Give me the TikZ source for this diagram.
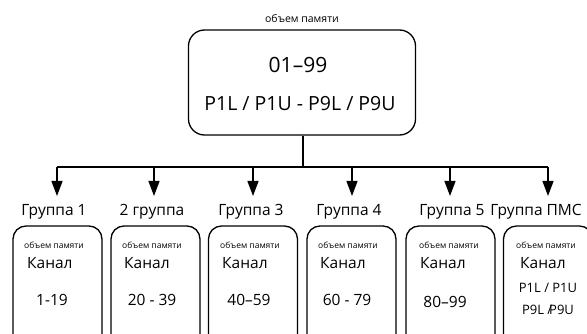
\documentclass[tikz,border=0pt]{standalone}
\usepackage{fontspec}
\setmainfont{Open Sans}
\usetikzlibrary{arrows.meta}
\begin{document}
\begin{tikzpicture}[x=1pt,y=-1pt,
  bigbox/.style={draw,line width=1.3pt,rounded corners=16pt,minimum width=227pt,minimum height=105pt,inner sep=0pt},
  grpbox/.style={draw,line width=1.3pt,rounded corners=13pt,minimum width=89pt,minimum height=130pt,inner sep=0pt},
  conn/.style={line width=1.3pt},
  arr/.style={line width=1.3pt,-{Triangle[length=15pt,width=11pt]}},
  glabel/.style={font=\fontsize{15.5}{18}\selectfont,inner sep=0pt},
  small/.style={font=\fontsize{8.5}{10}\selectfont,inner sep=0pt},
  kanal/.style={font=\fontsize{15.5}{18}\selectfont,inner sep=0pt,anchor=west},
  rng/.style={font=\fontsize{15.5}{18}\selectfont,inner sep=0pt},
  pms/.style={font=\fontsize{13}{15}\selectfont,inner sep=0pt},
]
\useasboundingbox (0,0) rectangle (587,334);
\clip (0,0) rectangle (587,334);
% top
\node[font=\fontsize{10.5}{12}\selectfont,inner sep=0pt] (toplabel) at (302,19) {объем памяти};
\node[bigbox] (top) at (302,82.5) {};
\node[font=\fontsize{21}{24}\selectfont,inner sep=0pt] (t1) at (298,65) {01–99};
\node[font=\fontsize{19.5}{22}\selectfont,inner sep=0pt] (t2) at (300,104) {P1L / P1U - P9L / P9U};
% bus
\coordinate (bus) at (303,167);
\coordinate (busl) at (57,167);
\coordinate (busr) at (548,167);
\draw[conn] (top.south -| bus) -- (bus);
\draw[conn] (busl) -- (busr);
\foreach \i/\x in {1/57,2/154,3/253,4/352,5/450,6/548}{
  \coordinate (s\i) at (\x,167);
  \coordinate (e\i) at (\x,196);
  \draw[arr] (s\i) -- (e\i);
}
% group labels
\node[glabel] (g1) at (54,212) {Группа 1};
\node[glabel] (g2) at (152,212) {2 группа};
\node[glabel] (g3) at (251,212) {Группа 3};
\node[glabel] (g4) at (349,212) {Группа 4};
\node[glabel] (g5) at (452,212) {Группа 5};
\node[glabel] (g6) at (536,212) {Группа ПМС};
% boxes
\foreach \i/\x in {1/57.5,2/155.5,3/253,4/351.5,5/450.5,6/548}{
  \node[grpbox] (b\i) at (\x,291) {};
}
\foreach \i/\x in {1/54,2/152,3/250,4/348,5/449,6/546}{
  \node[small] (m\i) at (\x,245) {объем памяти};
}
\foreach \i/\x in {1/27,2/124,3/222,4/320,5/420,6/520}{
  \node[kanal] (k\i) at (\x,263) {Канал};
}
\node[rng] (r1) at (52,300) {1-19};
\node[rng] (r2) at (152,300) {20 - 39};
\node[rng] (r3) at (249,300) {40–59};
\node[rng] (r4) at (347,300) {60 - 79};
\node[rng] (r5) at (445,302) {80–99};
\node[pms] (p1) at (548,288) {P1L / P1U};
\node[pms] (p2) at (548,310) {P9L /\kern-3pt P9U};
\end{tikzpicture}
\end{document}
